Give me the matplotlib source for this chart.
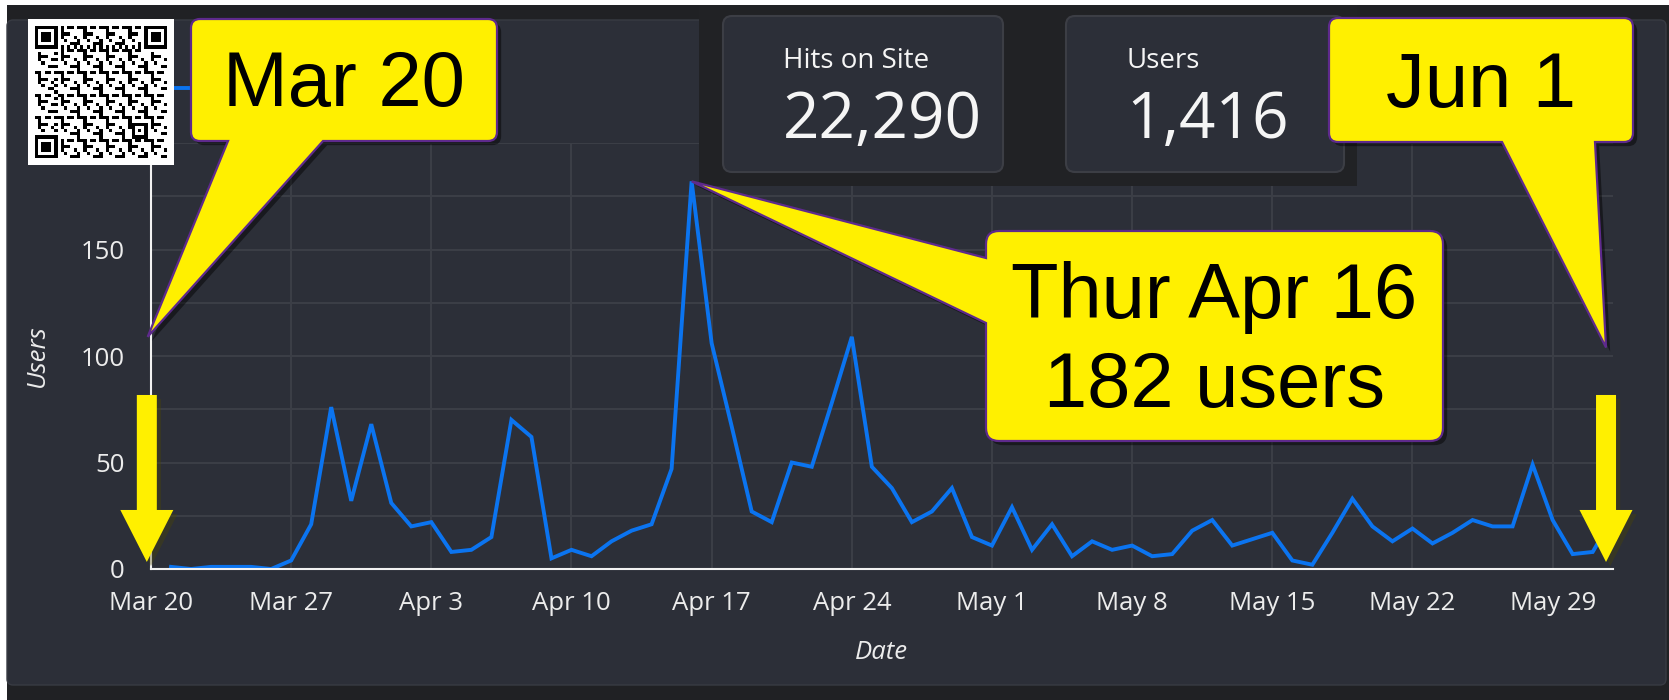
import matplotlib
matplotlib.use("Agg")
import matplotlib.pyplot as plt
import matplotlib.dates as mdates
import matplotlib.patches as mpatches
import matplotlib.patheffects as pe
from matplotlib.path import Path
from matplotlib.transforms import IdentityTransform
import numpy as np
import pandas as pd

# ---------------- data ----------------
dates = pd.date_range("2020-03-21", "2020-06-01", freq="D")
users = [1, 0, 1, 1, 1, 0, 4,
         21, 76, 32, 68, 31, 20, 22,
         8, 9, 15, 70, 62, 5, 9,
         6, 13, 18, 21, 47, 182, 106,
         67, 27, 22, 50, 48, 78, 109,
         48, 38, 22, 27, 38, 15, 11,
         29, 9, 21, 6, 13, 9, 11,
         6, 7, 18, 23, 11, 14, 17,
         4, 2, 17, 33, 20, 13, 19,
         12, 17, 23, 20, 20, 49, 23,
         7, 8, 24]
tick_dates = pd.date_range("2020-03-20", "2020-05-29", freq="7D")
tick_labels = ["Mar 20", "Mar 27", "Apr 3", "Apr 10", "Apr 17", "Apr 24",
               "May 1", "May 8", "May 15", "May 22", "May 29"]
y_ticks = [0, 50, 100, 150, 200]
y_grid = [25, 75, 125, 175]
stat_labels = ["Hits on Site", "Users"]
stat_values = ["22,290", "1,416"]
peak_date = pd.Timestamp("2020-04-16")
peak_value = 182

# ---------------- style ----------------
W, H = 1669, 700
PANEL = "#2c2f38"
DARK = "#202124"
CONT = "#212225"
CARD_EDGE = "#3c3e45"
GRID = "#3c3f47"
LINE = "#0b74f0"
TXT = "#ececec"
YEL = "#fff000"
PURP = "#5e2a8c"
SANS = ["Open Sans", "DejaVu Sans"]
ARIAL = ["Liberation Sans", "DejaVu Sans"]

fig = plt.figure(figsize=(W / 100, H / 100), dpi=100)
fig.patch.set_facecolor("white")
IDT = IdentityTransform()


def rect(x0, y0, x1, y1, fc, ec="none", lw=0, r=0, z=-10):
    style = "round,pad=0,rounding_size=%g" % r if r else "square,pad=0"
    p = mpatches.FancyBboxPatch((x0, H - y1), x1 - x0, y1 - y0, boxstyle=style,
                                transform=IDT, facecolor=fc, edgecolor=ec,
                                linewidth=lw, zorder=z)
    fig.add_artist(p)
    return p


# page frame
rect(7, 5, W, H, DARK, z=-12)
rect(7, 20, 1666, 685, PANEL, ec="#383b43", lw=1, r=6, z=-11)

# ---------------- main axes ----------------
x0p, x1p, y_top, y_bot = 151, 1612.7, 143, 569
ax = fig.add_axes([x0p / W, 1 - y_bot / H, (x1p - x0p) / W, (y_bot - y_top) / H])
ax.set_zorder(1)
ax.patch.set_alpha(0)
ax.plot(dates, users, color=LINE, lw=2.8, solid_joinstyle="miter", label="Users",
        zorder=3)
ax.set_xlim(pd.Timestamp("2020-03-20"), pd.Timestamp("2020-06-01"))
ax.set_ylim(0, 200)
ax.set_xticks(tick_dates)
ax.set_xticklabels(tick_labels)
ax.set_yticks(y_ticks)
ax.set_yticks(y_grid, minor=True)
ax.grid(True, which="both", color=GRID, lw=1.4)
ax.set_axisbelow(True)
ax.tick_params(axis="both", which="both", length=0, labelcolor=TXT, labelsize=18.5)
ax.tick_params(axis="x", pad=16)
ax.tick_params(axis="y", pad=19)
for lab in ax.get_xticklabels() + ax.get_yticklabels():
    lab.set_family(SANS)
for s in ["top", "right"]:
    ax.spines[s].set_visible(False)
for s in ["left", "bottom"]:
    ax.spines[s].set_color("#f2f2f2")
    ax.spines[s].set_linewidth(1.5)
    ax.spines[s].set_zorder(4)
axw = x1p - x0p
axh = y_bot - y_top
ax.set_xlabel("Date", color=TXT, fontsize=18.5, style="italic", family=SANS)
ax.xaxis.set_label_coords(0.5, (y_bot - 640) / axh)
ax.set_ylabel("Users", color=TXT, fontsize=18.5, style="italic", family=SANS)
ax.yaxis.set_label_coords((50 - x0p) / axw, 0.5)
# legend: only its line handle peeks out between the QR code and the callout
leg = ax.legend(loc="center left", bbox_to_anchor=(140 / W, 1 - 90 / H),
                bbox_transform=fig.transFigure, frameon=False,
                handlelength=2.0, borderpad=0, borderaxespad=0, labelcolor=TXT,
                prop={"family": SANS, "size": 18.5})
for t in leg.get_texts():
    t.set_visible(False)


def data_px(xd, yd):
    d = ax.transData.transform((mdates.date2num(xd), yd))
    return d[0], H - d[1]


# ---------------- stat cards ----------------
rect(699, 5, 1357, 186, CONT, z=5)
cards_x = [(723, 1003), (1066, 1344)]
for (cx0, cx1), lab, val in zip(cards_x, stat_labels, stat_values):
    rect(cx0, 16, cx1, 172, PANEL, ec=CARD_EDGE, lw=1.5, r=9, z=6)
    fig.text((cx0 + 60) / W, 1 - 68 / H, lab, color="#f5f5f5", fontsize=20,
             family=SANS, va="baseline", ha="left", zorder=7)
    fig.text((cx0 + 60) / W, 1 - 138 / H, val, color="#f5f5f5", fontsize=46,
             family=SANS, va="baseline", ha="left", zorder=7)

# ---------------- callouts ----------------
shadow = [pe.SimplePatchShadow(offset=(3, -3), shadow_rgbFace="black", alpha=0.45),
          pe.Normal()]


def callout(bx0, by0, bx1, by1, r, side, b0, b1, tip):
    verts, codes = [], []

    def M(p):
        verts.append(p); codes.append(Path.MOVETO)

    def L(p):
        verts.append(p); codes.append(Path.LINETO)

    def Q(c, p):
        verts.extend([c, p]); codes.extend([Path.CURVE3, Path.CURVE3])

    M((bx0 + r, by0)); L((bx1 - r, by0)); Q((bx1, by0), (bx1, by0 + r))
    L((bx1, by1 - r)); Q((bx1, by1), (bx1 - r, by1))
    if side == "bottom":
        L((b1, by1)); L(tip); L((b0, by1))
    L((bx0 + r, by1)); Q((bx0, by1), (bx0, by1 - r))
    if side == "left":
        L((bx0, b1)); L(tip); L((bx0, b0))
    L((bx0, by0 + r)); Q((bx0, by0), (bx0 + r, by0))
    verts.append((bx0 + r, by0)); codes.append(Path.CLOSEPOLY)
    v = np.array(verts, float)
    v[:, 1] = H - v[:, 1]
    p = mpatches.PathPatch(Path(v, codes), transform=IDT, facecolor=YEL,
                           edgecolor=PURP, lw=1.6, zorder=10)
    p.set_path_effects(shadow)
    fig.add_artist(p)


def ctext(x, y, s):
    fig.text(x / W, 1 - y / H, s, fontsize=56, family=ARIAL, color="black",
             ha="center", va="baseline", zorder=11)


tip1 = data_px(pd.Timestamp("2020-03-20") - pd.Timedelta(hours=4), 109)
callout(191, 19, 497, 141, 9, "bottom", 228, 323, tip1)
ctext(344, 106, "Mar 20")

tip2 = data_px(pd.Timestamp("2020-06-01") - pd.Timedelta(hours=8), 104)
callout(1329, 18, 1633, 142, 9, "bottom", 1502, 1595, tip2)
ctext(1481, 107, "Jun 1")

tip3 = data_px(peak_date, peak_value)
callout(986, 231, 1443, 441, 13, "left", 258, 323, tip3)
ctext(1214, 318, "Thur Apr 16")
ctext(1214, 407, "%d users" % peak_value)

# ---------------- yellow arrows ----------------


def down_arrow(tip):
    tx, ty = tip
    pts = [(tx - 10, ty - 167), (tx + 10, ty - 167), (tx + 10, ty - 52),
           (tx + 26.5, ty - 52), (tx, ty), (tx - 26.5, ty - 52), (tx - 10, ty - 52)]
    pts = [(x, H - y) for x, y in pts]
    p = mpatches.Polygon(pts, closed=True, transform=IDT, facecolor=YEL,
                         edgecolor="none", zorder=10)
    p.set_path_effects([pe.SimplePatchShadow(offset=(3, -3), alpha=0.35), pe.Normal()])
    fig.add_artist(p)


down_arrow(data_px(pd.Timestamp("2020-03-20") - pd.Timedelta(hours=5), 3.3))
down_arrow(data_px(pd.Timestamp("2020-06-01") - pd.Timedelta(hours=8), 3.3))

# ---------------- QR code (decorative) ----------------
n = 41
qr = np.zeros((n, n), int)
ii, jj = np.meshgrid(np.arange(n), np.arange(n), indexing="ij")
qr[((ii * ii * 3 + jj * 7 + ii * jj * 5 + jj * jj) % 7) < 3] = 1


def finder(r0, c0):
    qr[max(r0 - 1, 0):r0 + 8, max(c0 - 1, 0):c0 + 8] = 0
    qr[r0:r0 + 7, c0:c0 + 7] = 1
    qr[r0 + 1:r0 + 6, c0 + 1:c0 + 6] = 0
    qr[r0 + 2:r0 + 5, c0 + 2:c0 + 5] = 1


finder(0, 0); finder(0, n - 7); finder(n - 7, 0)
qr[6, 8:n - 8] = (np.arange(8, n - 8) + 1) % 2
qr[8:n - 8, 6] = (np.arange(8, n - 8) + 1) % 2
a = n - 9
qr[a - 2:a + 3, a - 2:a + 3] = 1
qr[a - 1:a + 2, a - 1:a + 2] = 0
qr[a, a] = 1

rect(28, 19, 174, 165, "white", z=19)
axq = fig.add_axes([28 / W, 1 - 165 / H, 146 / W, 146 / H])
axq.set_zorder(20)
axq.imshow(qr, cmap="gray_r", interpolation="nearest", extent=(0, n, n, 0))
axq.set_xlim(-2.2, n + 2.2)
axq.set_ylim(n + 2.2, -2.2)
axq.axis("off")

fig.savefig("out.png", dpi=100, facecolor=fig.get_facecolor())
